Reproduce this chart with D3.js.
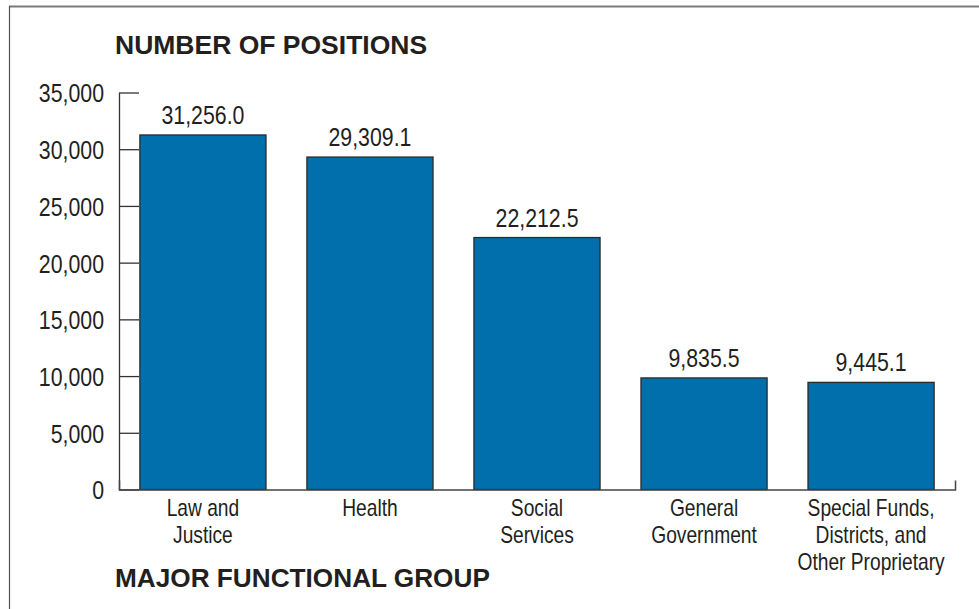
<!DOCTYPE html>
<html>
<head>
<meta charset="utf-8">
<script src="https://cdn.jsdelivr.net/npm/d3@7"></script>
<style>
  html, body { margin: 0; padding: 0; background: #fff; }
  svg { display: block; }
  .narrow { font-family: 'Liberation Sans', Arial, sans-serif; }
  .heading { font-family: 'Liberation Sans', Arial, sans-serif; font-weight: bold; }
</style>
</head>
<body>
<svg id="chart" width="979" height="609"></svg>
<script>
// Budgeted positions by major functional group
const categories = ["Law and Justice", "Health", "Social Services", "General Government",
                    "Special Funds, Districts, and Other Proprietary"];
const categoryLines = [["Law and", "Justice"], ["Health"], ["Social", "Services"],
                       ["General", "Government"], ["Special Funds,", "Districts, and", "Other Proprietary"]];
const positions = [31256.0, 29309.1, 22212.5, 9835.5, 9445.1];
const yTicks = [0, 5000, 10000, 15000, 20000, 25000, 30000, 35000];

const svg = d3.select("#chart");
const ink = "#231f20";
// horizontal squeeze that gives the regular sans a condensed look
const squeeze = 0.82;

// frame
svg.append("line").attr("x1", 9).attr("x2", 979).attr("y1", 6.5).attr("y2", 6.5)
  .attr("stroke", "#7a7a7a").attr("stroke-width", 2);
svg.append("line").attr("x1", 9.5).attr("x2", 9.5).attr("y1", 6).attr("y2", 609)
  .attr("stroke", "#555").attr("stroke-width", 1.2);

const x = d3.scaleBand().domain(categories).range([119, 955])
  .paddingInner(0.245).paddingOuter(0.125);
const y = d3.scaleLinear().domain([0, 35000]).range([489.5, 92.5]);
const cx = i => x(categories[i]) + x.bandwidth() / 2;

// bars
svg.append("g").selectAll("rect").data(positions).join("rect")
  .attr("x", (d, i) => x(categories[i]))
  .attr("y", d => y(d))
  .attr("width", x.bandwidth())
  .attr("height", d => y(0) - y(d))
  .attr("fill", "#006fac")
  .attr("stroke", "#2b2b2b")
  .attr("stroke-width", 1.3);

// value labels
svg.append("g").selectAll("text").data(positions).join("text")
  .attr("class", "narrow")
  .attr("transform", (d, i) => `translate(${cx(i)},${y(d) - 11}) scale(${squeeze},1)`)
  .attr("text-anchor", "middle")
  .attr("font-size", 26)
  .attr("fill", ink)
  .text(d => d3.format(",.1f")(d));

// y axis
const yAxis = d3.axisLeft(y).tickValues(yTicks).tickFormat(d3.format(","))
  .tickSizeInner(-20).tickSizeOuter(0).tickPadding(15);
const gy = svg.append("g").attr("transform", "translate(119,0)").call(yAxis);
gy.select(".domain").attr("stroke", "#333").attr("stroke-width", 1.3);
gy.selectAll(".tick line").attr("stroke", "#333").attr("stroke-width", 1.3);
gy.selectAll(".tick text").attr("class", "narrow").attr("font-size", 26)
  .attr("fill", ink).attr("dy", "0.36em")
  .attr("x", -15 / squeeze)
  .attr("transform", `scale(${squeeze},1)`);

// x axis
const xAxis = d3.axisBottom(x).tickSize(0).tickSizeOuter(-9).tickFormat("");
const gx = svg.append("g").attr("transform", "translate(0,489.5)").call(xAxis);
gx.select(".domain").attr("stroke", "#444").attr("stroke-width", 1.5);

// category labels
const catG = svg.append("g").selectAll("text").data(categoryLines).join("text")
  .attr("class", "narrow")
  .attr("text-anchor", "middle")
  .attr("font-size", 24)
  .attr("fill", ink)
  .attr("transform", (d, i) => `translate(${cx(i)},516) scale(0.8,1)`);
catG.selectAll("tspan").data(d => d).join("tspan")
  .attr("x", 0)
  .attr("dy", (d, i) => i === 0 ? 0 : 27)
  .text(d => d);

// headings
svg.append("text").attr("class", "heading").attr("x", 115).attr("y", 54)
  .attr("font-size", 26.5).attr("fill", ink).text("NUMBER OF POSITIONS");
svg.append("text").attr("class", "heading").attr("x", 115).attr("y", 587)
  .attr("font-size", 26.2).attr("fill", ink).text("MAJOR FUNCTIONAL GROUP");
</script>
</body>
</html>
